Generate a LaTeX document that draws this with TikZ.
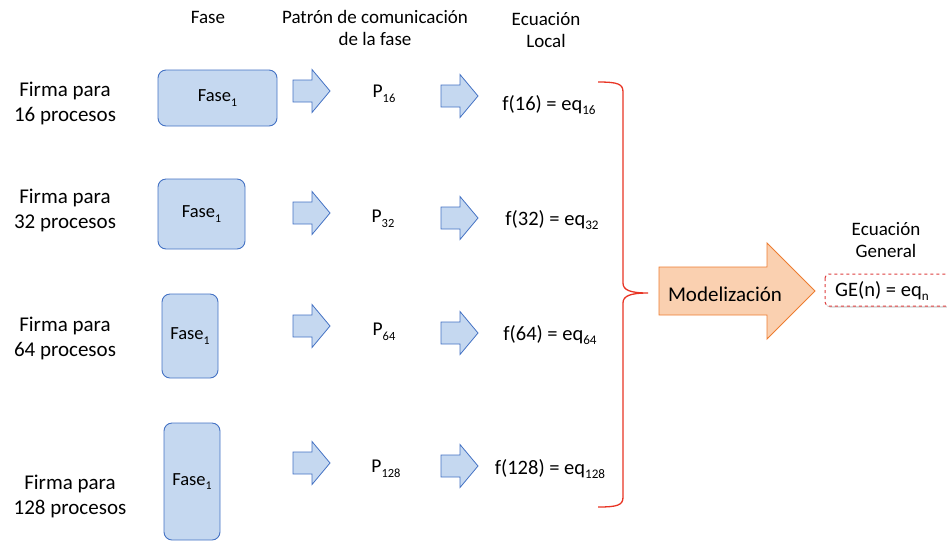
\documentclass[tikz,border=0pt]{standalone}
\usepackage{fontspec}
\setmainfont{Carlito}
\usetikzlibrary{shadows}
\definecolor{boxfill}{RGB}{197,216,240}
\definecolor{boxline}{RGB}{68,114,196}
\definecolor{modfill}{RGB}{250,208,176}
\definecolor{modline}{RGB}{237,125,49}
\definecolor{bracered}{RGB}{232,52,36}
\definecolor{dashred}{RGB}{222,62,62}
% small, well lowered subscript
\newcommand\lowsub[1]{\raisebox{-0.5ex}{\scalebox{0.64}{#1}}}
\tikzset{
  fasebox/.style={draw=boxline, fill=boxfill, rounded corners=8pt, line width=0.9pt,
    font=\fontsize{18.5}{22}\selectfont},
  lbl/.style={align=center, font=\fontsize{21}{25}\selectfont, inner sep=0pt},
  hdr/.style={align=center, font=\fontsize{19}{22}\selectfont, inner sep=0pt},
  eqn/.style={font=\fontsize{20.5}{24}\selectfont, inner sep=0pt},
  pat/.style={font=\fontsize{19.5}{23}\selectfont, inner sep=0pt},
  pics/barrow/.style={code={
    \draw[boxline, fill=boxfill, line width=0.8pt, line join=miter]
      (0,-11) -- (19,-11) -- (19,-21.5) -- (37,0) -- (19,21.5) -- (19,11) -- (0,11) -- cycle;
  }}
}
\begin{document}
\begin{tikzpicture}[x=1pt, y=-1pt]
\useasboundingbox (0,0) rectangle (947,542);

% column headers
\node[hdr] (hfase) at (208,17) {Fase};
\node[hdr] (hpat) at (375,28) {Patrón de comunicación\\de la fase};
\node[hdr] (hloc) at (546,30) {Ecuación\\Local};

% row labels
\node[lbl] (r1) at (65,103) {Firma para\\16 procesos};
\node[lbl] (r2) at (65,210) {Firma para\\32 procesos};
\node[lbl] (r3) at (65,338) {Firma para\\64 procesos};
\node[lbl] (r4) at (70,496) {Firma para\\128 procesos};

% phase boxes
\node[fasebox, minimum width=119pt, minimum height=56pt] (f1) at (217.5,98) {Fase\lowsub{1}};
\node[fasebox, minimum width=87pt, minimum height=70pt] (f2) at (201.5,214) {Fase\lowsub{1}};
\node[fasebox, minimum width=56pt, minimum height=84pt] (f3) at (190,336) {Fase\lowsub{1}};
\node[fasebox, minimum width=56pt, minimum height=117pt] (f4) at (192,481.5) {Fase\lowsub{1}};

% block arrows towards the patterns
\pic at (293,91) {barrow};
\pic at (293,213) {barrow};
\pic at (293,326) {barrow};
\pic at (293,463) {barrow};

% communication patterns
\node[pat] (p1) at (384,94) {P\lowsub{16}};
\node[pat] (p2) at (383,219) {P\lowsub{32}};
\node[pat] (p3) at (384,332) {P\lowsub{64}};
\node[pat] (p4) at (386,469) {P\lowsub{128}};

% block arrows towards the local equations
\pic at (441,96) {barrow};
\pic at (441,218) {barrow};
\pic at (441,333) {barrow};
\pic at (441,466) {barrow};

% local equations
\node[eqn] (e1) at (549,105) {f(16) = eq\lowsub{16}};
\node[eqn] (e2) at (552,220) {f(32) = eq\lowsub{32}};
\node[eqn] (e3) at (550,335) {f(64) = eq\lowsub{64}};
\node[eqn] (e4) at (550,469) {f(128) = eq\lowsub{128}};

% brace gathering the local equations
\coordinate (bt) at (598,82);
\coordinate (bm) at (648,293);
\coordinate (bb) at (598,507);
\draw[bracered, line width=1.3pt]
  (bt) .. controls (618,82) and (623,84) .. (623,92)
  -- (623,283) .. controls (623,290) and (630,293) .. (bm)
  .. controls (630,293) and (623,296) .. (623,303)
  -- (623,497) .. controls (623,505) and (618,507) .. (bb);

% modelling arrow
\draw[modline, fill=modfill, line width=0.9pt, line join=miter]
  (659,267) -- (767,267) -- (767,243) -- (815,291) -- (767,339) -- (767,315) -- (659,315) -- cycle;
\node[font=\fontsize{21}{25}\selectfont, inner sep=0pt] (mod) at (725,294) {Modelización};

% general equation
\node[hdr] (hgen) at (886,240) {Ecuación\\General};
\draw[dashred, dashed, line width=1pt, fill=white, rounded corners=4pt,
  drop shadow={shadow xshift=1pt, shadow yshift=-1.5pt, opacity=0.35}]
  (825,274) rectangle (960,306);
\node[eqn, anchor=west] (ge) at (835,291) {GE(n) = eq\lowsub{n}};
\end{tikzpicture}
\end{document}
